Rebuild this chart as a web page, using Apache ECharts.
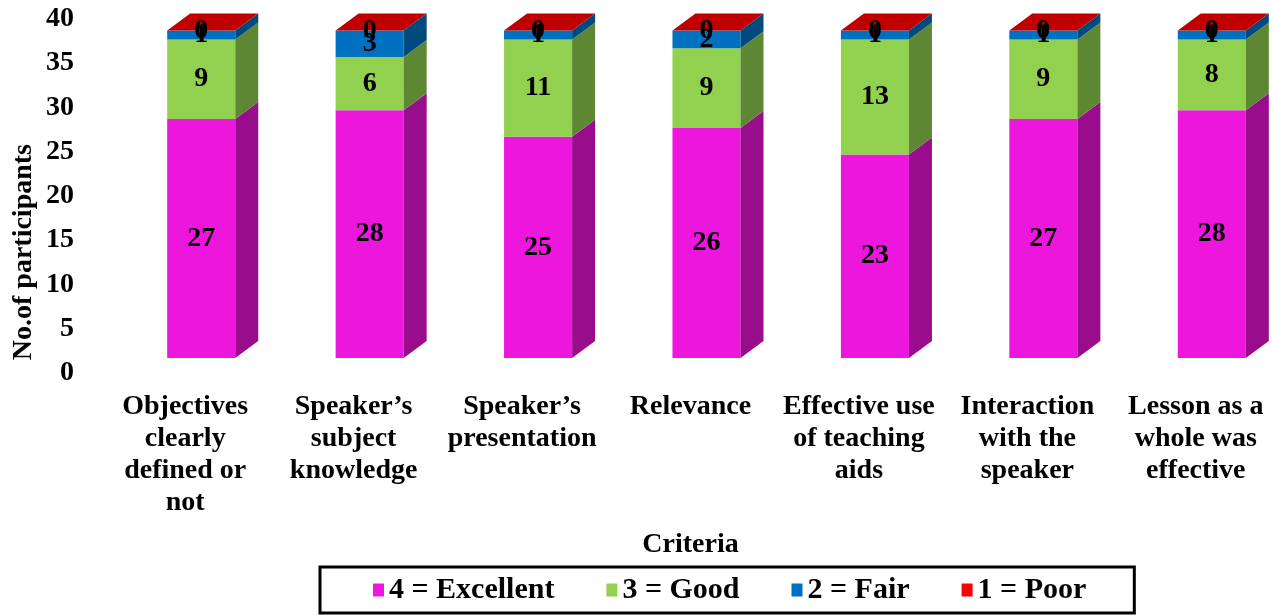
<!DOCTYPE html>
<html>
<head>
<meta charset="utf-8">
<script src="https://cdn.jsdelivr.net/npm/echarts@6/dist/echarts.min.js"></script>
<style>html,body{margin:0;padding:0;background:#fff}#c{width:1273px;height:615px}</style>
</head>
<body>
<div id="c"></div>
<script>
const categories = [
  "Objectives\nclearly\ndefined or\nnot",
  "Speaker\u2019s\nsubject\nknowledge",
  "Speaker\u2019s\npresentation",
  "Relevance",
  "Effective use\nof teaching\naids",
  "Interaction\nwith the\nspeaker",
  "Lesson as a\nwhole was\neffective"
];
const excellent = [27, 28, 25, 26, 23, 27, 28];
const good      = [9, 6, 11, 9, 13, 9, 8];
const fair      = [1, 3, 1, 2, 1, 1, 1];
const poor      = [0, 0, 0, 0, 0, 0, 0];
const seriesNames = ["4 = Excellent", "3 = Good", "2 = Fair", "1 = Poor"];
const yTicks = [0, 5, 10, 15, 20, 25, 30, 35, 40];

const frontColors = ["#EC16DC", "#92D050", "#0070C0", "#FF0000"];
const sideColors  = ["#990D8D", "#5E8734", "#004A7F", "#A00000"];
const topColor = "#C00000";
const FONT = "'Liberation Serif', 'Times New Roman', serif";

const allValues = [excellent, good, fair, poor];
const DX = 23, DY = -17, SHIFT = -15;

function makeRender(sIdx, isTop) {
  return function (params, api) {
    const i = api.value(0), base = api.value(1), val = api.value(2);
    const p0 = api.coord([i, base]);
    const p1 = api.coord([i, base + val]);
    const band = api.size([1, 0])[0];
    const w = band * 0.404;
    const xl = p0[0] - band * 0.107;
    const yb = p0[1] + SHIFT, yt = p1[1] + SHIFT;
    const children = [];
    if (yb - yt > 0) {
      children.push({type: 'rect', shape: {x: xl, y: yt, width: w, height: yb - yt},
        style: {fill: frontColors[sIdx]}});
      children.push({type: 'polygon', shape: {points: [[xl + w, yb], [xl + w + DX, yb + DY], [xl + w + DX, yt + DY], [xl + w, yt]]},
        style: {fill: sideColors[sIdx]}});
    }
    if (isTop) {
      children.push({type: 'polygon', shape: {points: [[xl, yt], [xl + DX, yt + DY], [xl + w + DX, yt + DY], [xl + w, yt]]},
        style: {fill: topColor}});
    }
    children.push({type: 'text', z2: 100, style: {
      x: xl + w / 2, y: (yb + yt) / 2, text: String(val),
      font: "bold 28px " + FONT, fill: '#000', align: 'center', verticalAlign: 'middle'}});
    return {type: 'group', children: children};
  };
}

const series = seriesNames.map(function (name, s) {
  const data = categories.map(function (c, i) {
    let base = 0;
    for (let k = 0; k < s; k++) base += allValues[k][i];
    return [i, base, allValues[s][i]];
  });
  return {
    type: 'custom', name: name,
    renderItem: makeRender(s, s === seriesNames.length - 1),
    encode: {x: 0, y: [1, 2]},
    itemStyle: {color: frontColors[s]},
    data: data
  };
});

const chart = echarts.init(document.getElementById('c'), null, {renderer: 'canvas'});
chart.setOption({
  animation: false,
  backgroundColor: '#fff',
  grid: {left: 101, top: 19, width: 1179, height: 354, outerBoundsMode: 'none'},
  xAxis: {
    type: 'category', data: categories,
    axisLine: {show: false}, axisTick: {show: false},
    axisLabel: {interval: 0, margin: 18, color: '#000', fontFamily: FONT, fontWeight: 'bold', fontSize: 28, lineHeight: 32},
    name: 'Criteria', nameLocation: 'middle', nameGap: 158,
    nameTextStyle: {color: '#000', fontFamily: FONT, fontWeight: 'bold', fontSize: 28}
  },
  yAxis: {
    type: 'value', min: yTicks[0], max: yTicks[yTicks.length - 1], interval: 5,
    splitLine: {show: false}, axisLine: {show: false}, axisTick: {show: false},
    axisLabel: {margin: 27, color: '#000', fontFamily: FONT, fontWeight: 'bold', fontSize: 28}
  },
  legend: {
    left: 320, top: 567,
    padding: [8, 48, 8, 53],
    borderColor: '#000', borderWidth: 3,
    itemWidth: 11, itemHeight: 13, itemGap: 52, icon: 'rect',
    textStyle: {color: '#000', fontFamily: FONT, fontWeight: 'bold', fontSize: 30},
    data: seriesNames
  },
  graphic: [{
    type: 'text', left: 10, top: 144, rotation: Math.PI / 2,
    style: {text: 'No.of participants', font: "bold 28px " + FONT, fill: '#000'}
  }],
  series: series
});
</script>
</body>
</html>
